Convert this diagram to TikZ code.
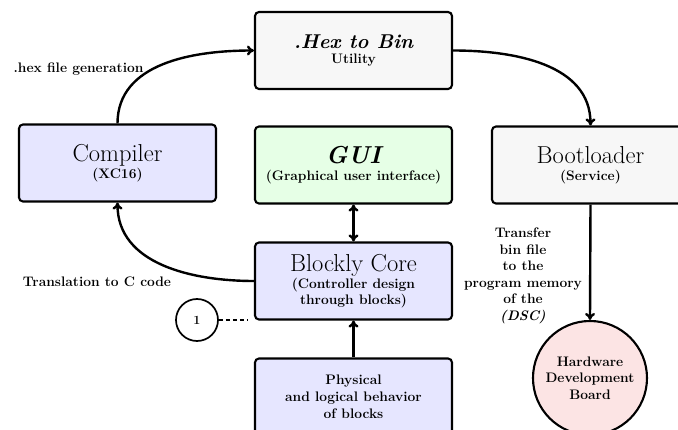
\documentclass[tikz,border=0pt]{standalone}
\usetikzlibrary{arrows.meta}
\definecolor{boxgray}{HTML}{F7F7F7}
\definecolor{boxblue}{HTML}{E6E6FF}
\definecolor{boxgreen}{HTML}{E6FFE6}
\definecolor{boxred}{HTML}{FCE4E4}
\tikzset{
  blk/.style={draw, line width=2.1pt, rounded corners=4pt, minimum width=197pt, minimum height=77pt, align=center, inner sep=2pt, font=\fontsize{13.8}{17}\selectfont\bfseries},
  sml/.style={font=\fontsize{13.8}{16.5}\selectfont\bfseries, align=center},
  conn/.style={line width=2.4pt, -{To[length=7pt,width=10pt]}},
}
\newcommand{\ttlfont}{\fontsize{24.5}{24.5}\selectfont\mdseries}
\begin{document}
\begin{tikzpicture}[x=1pt,y=-1pt]
\useasboundingbox (0,0) rectangle (678,430);
\node[blk, fill=boxgray] (hex) at (353.5,50.5) {{\fontsize{20}{20}\selectfont\bfseries\itshape .Hex to Bin}\\[-2pt]Utility};
\node[blk, fill=boxblue] (comp) at (117.5,163) {{\ttlfont Compiler}\\(XC16)};
\node[blk, fill=boxgreen] (gui) at (353.5,165) {{\ttlfont\bfseries\itshape GUI}\\(Graphical user interface)};
\node[blk, fill=boxgray] (boot) at (590.5,165) {{\ttlfont Bootloader}\\(Service)};
\node[blk, fill=boxblue] (core) at (353.5,281) {{\ttlfont Blockly Core}\\(Controller design\\[-1pt]through blocks)};
\node[blk, fill=boxblue] (phys) at (353.5,397) {Physical\\and logical behavior\\of blocks};
\node[draw, circle, line width=2.1pt, fill=boxred, minimum size=114pt, sml, inner sep=0pt] (hw) at (590,378) {Hardware\\Development\\Board};
\node[draw, circle, line width=1.7pt, minimum size=42pt, inner sep=0pt, font=\fontsize{12.5}{14}\selectfont\bfseries] (one) at (197,320) {1};
\coordinate (dotend) at (248,320);
\draw[line width=2.4pt, dash pattern=on 4pt off 3pt] (one.east) -- (dotend);

\node[sml, anchor=east] (lblhex) at (147,69) {.hex file generation};
\node[sml] (lbltr) at (97,282) {Translation to C code};
\node[sml] (lblbin) at (523,276) {Transfer\\bin file\\to the\\program memory\\of the\\\textit{(DSC)}};

\draw[conn] (comp.north) to[out=90,in=180] (hex.west);
\draw[conn] (hex.east) to[out=0,in=90] (boot.north);
\draw[conn] (core.west) to[out=180,in=-90] (comp.south);
\draw[line width=2.4pt, {To[length=7pt,width=10pt]}-{To[length=7pt,width=10pt]}] (gui.south) -- (core.north);
\draw[conn] (phys.north) -- (core.south);
\draw[conn] (boot.south) -- (hw.north);
\end{tikzpicture}
\end{document}
